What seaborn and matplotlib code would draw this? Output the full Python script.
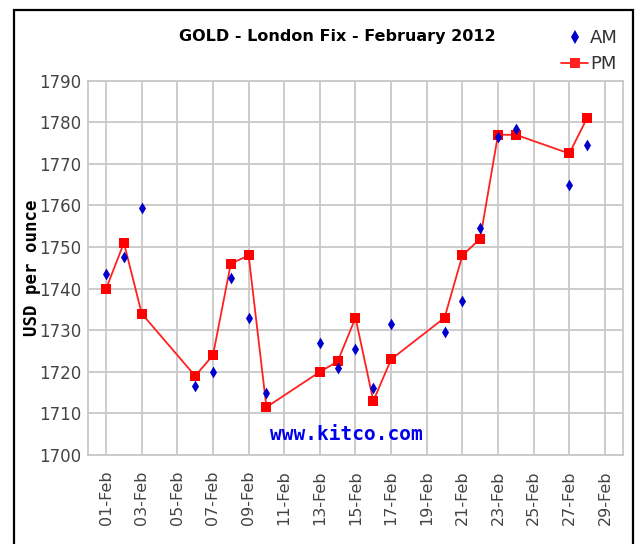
import matplotlib
matplotlib.use("Agg")
import matplotlib.pyplot as plt
import matplotlib.dates as mdates
from matplotlib.patches import Rectangle
from matplotlib.lines import Line2D
import seaborn as sns
import pandas as pd

days = [1, 2, 3, 6, 7, 8, 9, 10, 13, 14, 15, 16, 17, 20, 21, 22, 23, 24, 27, 28]
am = [1743.5, 1747.5, 1759.5, 1716.5, 1720.0, 1742.5, 1733.0, 1715.0, 1727.0, 1721.0,
      1725.5, 1716.0, 1731.5, 1729.5, 1737.0, 1754.5, 1776.5, 1778.5, 1765.0, 1774.5]
pm = [1740.0, 1751.0, 1734.0, 1719.0, 1724.0, 1746.0, 1748.0, 1711.5, 1720.0, 1722.5,
      1733.0, 1713.0, 1723.0, 1733.0, 1748.0, 1752.0, 1777.0, 1777.0, 1772.5, 1781.0]
yticks = list(range(1700, 1791, 10))
title = "GOLD - London Fix - February 2012"

dates = pd.to_datetime([f"2012-02-{d:02d}" for d in days])
df = pd.DataFrame({"date": dates, "AM": am, "PM": pm})

sns.set_style("white")
plt.rcParams["font.family"] = ["DejaVu Sans"]

fig = plt.figure(figsize=(6.37, 5.44), dpi=100)
ax = fig.add_axes([88.3 / 637, 89 / 544, (622.7 - 88.3) / 637, (455 - 80.7) / 544])

# outer black frame
fig.patches.append(Rectangle((14 / 637, -0.1), (633 - 14) / 637, (534 / 544) + 0.1,
                             transform=fig.transFigure, fill=False,
                             edgecolor="black", linewidth=1.6, zorder=0))

sns.lineplot(data=df, x="date", y="PM", ax=ax, color="#ff2020", linewidth=1.3,
             marker="s", markersize=7.5, markeredgewidth=0, markerfacecolor="#ff0000",
             zorder=3)
sns.scatterplot(data=df, x="date", y="AM", ax=ax, marker="d", color="#0000cc",
                s=36, linewidth=0, zorder=4)

ax.set_xlim(pd.Timestamp("2012-01-31"), pd.Timestamp("2012-03-01"))
ax.set_ylim(1700, 1790)
ax.set_yticks(yticks)
tick_dates = pd.date_range("2012-02-01", "2012-02-29", freq="2D")
ax.set_xticks(tick_dates)
ax.xaxis.set_major_formatter(mdates.DateFormatter("%d-%b"))
ax.grid(True, color="#c8c8c8", linewidth=1.3)
ax.set_axisbelow(True)
for s in ax.spines.values():
    s.set_color("#c8c8c8")
    s.set_linewidth(1.3)
ax.tick_params(axis="both", length=0, colors="#444444")
ax.tick_params(axis="x", pad=11, labelrotation=90, labelsize=11.5)
ax.tick_params(axis="y", pad=5, labelsize=12)
ax.set_xlabel("")
ax.set_ylabel("USD per ounce", fontsize=12.5, fontweight="bold",
              family=["DejaVu Sans Mono"], color="black")
ax.yaxis.set_label_coords((41 - 88.3) / 534.4, 0.5)

fig.text(337 / 637, 1 - 37 / 544, title, ha="center", va="center",
         fontsize=11.5, fontweight="bold", family=["DejaVu Sans"],
         color="black")

ax.text(0.483, 0.03, "www.kitco.com", transform=ax.transAxes, ha="center",
        va="bottom", fontsize=14, fontweight="bold", family=["DejaVu Sans Mono"],
        color="#0000ee")

handles = [Line2D([], [], linestyle="none", marker="d", color="#0000cc",
                  markersize=7, markeredgewidth=0),
           Line2D([], [], color="#ff2020", linewidth=1.3, marker="s",
                  markersize=7, markeredgewidth=0)]
fig.legend(handles, ["AM", "PM"], loc="upper right",
           bbox_to_anchor=(634 / 637, 1 - 13 / 544), frameon=False,
           handlelength=1.5, handletextpad=0.1, labelspacing=0.45,
           prop={"family": ["DejaVu Sans"], "size": 13},
           labelcolor="#333333")

fig.savefig("out.png", dpi=100)
